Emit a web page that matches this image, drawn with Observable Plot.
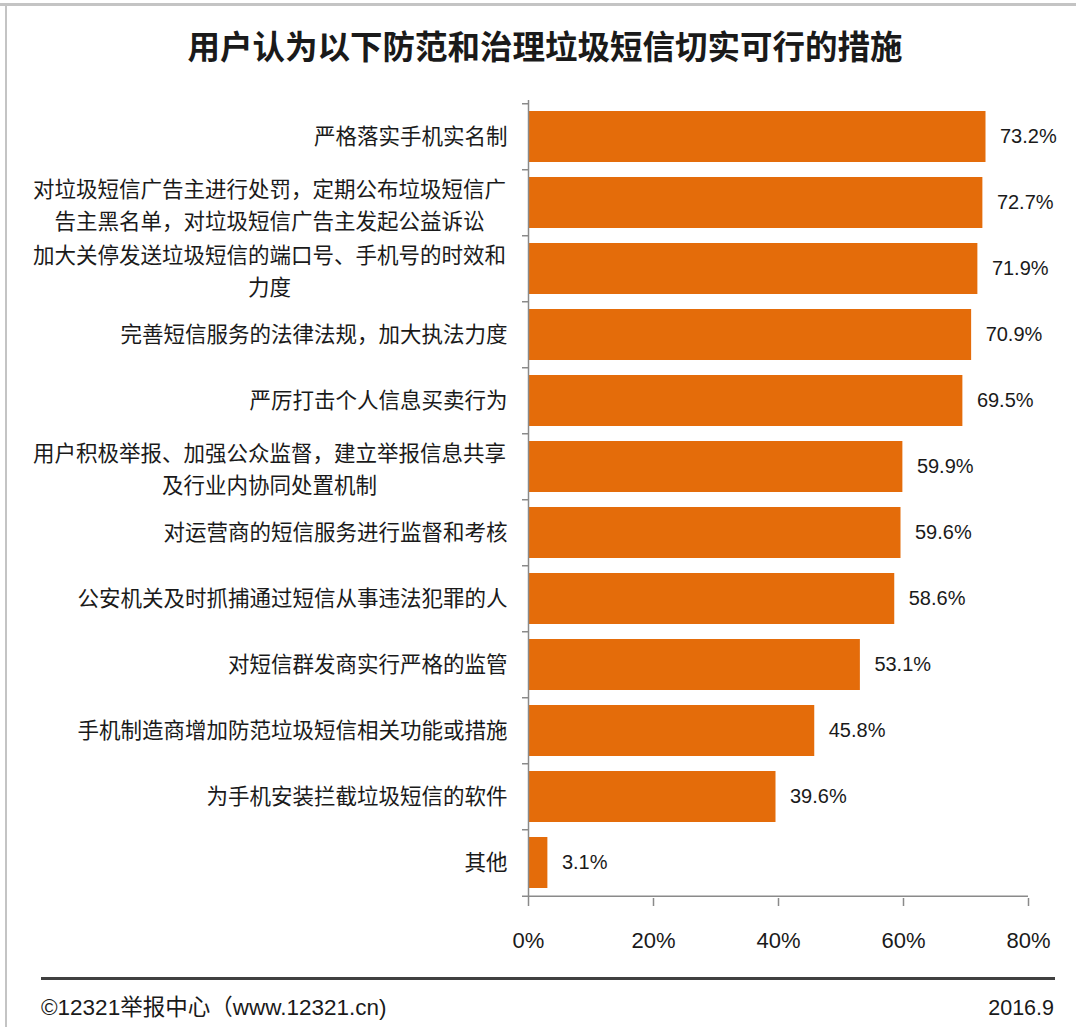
<!DOCTYPE html>
<html><head><meta charset="utf-8">
<script src="https://cdn.jsdelivr.net/npm/d3@7"></script>
<script src="https://cdn.jsdelivr.net/npm/@observablehq/plot@0.6"></script>
<style>
body{margin:0;background:#fff}
#wrap{position:relative;width:1076px;height:1027px;overflow:hidden;background:#fff}
#frameTop{position:absolute;left:0;top:3px;width:1076px;height:3px;background:#c4c4c4}
#frameLeft{position:absolute;left:5px;top:3px;width:2px;height:1024px;background:#c4c4c4}
#title{position:absolute;left:14px;top:28px;width:1062px;text-align:center;font:700 32.5px/34px 'Noto Sans CJK SC',sans-serif;color:#1a1a1a}
#chart{position:absolute;left:0;top:0}
#rule{position:absolute;left:41px;top:977px;width:1014px;height:2.5px;background:#404040}
#src{position:absolute;left:41px;top:995px;font:22.5px/26px 'Liberation Sans','Noto Sans CJK SC',sans-serif;color:#1a1a1a}
#date{position:absolute;right:22px;top:995px;font:21.5px/26px 'Liberation Sans',sans-serif;color:#1a1a1a}
</style></head><body>
<div id="wrap">
<div id="frameTop"></div><div id="frameLeft"></div>
<div id="title"></div>
<div id="chart"></div>
<div id="rule"></div>
<div id="src"></div>
<div id="date"></div>
</div>
<script>
const titleText = "用户认为以下防范和治理垃圾短信切实可行的措施";
const sourceText = "©12321举报中心（www.12321.cn)";
const dateText = "2016.9";
const categories = [
  "严格落实手机实名制",
  "对垃圾短信广告主进行处罚，定期公布垃圾短信广\n告主黑名单，对垃圾短信广告主发起公益诉讼",
  "加大关停发送垃圾短信的端口号、手机号的时效和\n力度",
  "完善短信服务的法律法规，加大执法力度",
  "严厉打击个人信息买卖行为",
  "用户积极举报、加强公众监督，建立举报信息共享\n及行业内协同处置机制",
  "对运营商的短信服务进行监督和考核",
  "公安机关及时抓捕通过短信从事违法犯罪的人",
  "对短信群发商实行严格的监管",
  "手机制造商增加防范垃圾短信相关功能或措施",
  "为手机安装拦截垃圾短信的软件",
  "其他"
];
const values = [73.2, 72.7, 71.9, 70.9, 69.5, 59.9, 59.6, 58.6, 53.1, 45.8, 39.6, 3.1];
const xTicks = [0, 20, 40, 60, 80];

document.getElementById("title").textContent = titleText;
document.getElementById("src").textContent = sourceText;
document.getElementById("date").textContent = dateText;

const data = categories.map((c, i) => ({cat: c, value: values[i]}));
const W = 1076, H = 960, mt = 100, mb = 62, ml = 528, mr = 48;
const step = (H - mt - mb) / categories.length;
const axisGray = "#8a8a8a", ink = "#1a1a1a", orange = "#E46C0A";
const cjk = "'Noto Sans CJK SC', sans-serif";
const latin = "'Liberation Sans', 'Noto Sans CJK SC', sans-serif";
const last = categories[categories.length - 1];

const chart = Plot.plot({
  width: W, height: H,
  marginTop: mt, marginBottom: mb, marginLeft: ml, marginRight: mr,
  style: {background: "transparent", overflow: "visible"},
  x: {domain: [xTicks[0], xTicks[xTicks.length - 1]], axis: null, label: null},
  y: {domain: categories, paddingInner: 0.23, paddingOuter: 0.115, axis: null, label: null},
  marks: [
    Plot.barX(data, {x: "value", y: "cat", fill: orange}),
    Plot.ruleX([xTicks[0]], {stroke: axisGray, strokeWidth: 1.5}),
    Plot.ruleY([last], {x1: xTicks[0], x2: xTicks[xTicks.length - 1], dy: step / 2, stroke: axisGray, strokeWidth: 1.5}),
    Plot.ruleY(categories, {x1: xTicks[0], x2: xTicks[0], insetLeft: -6, dy: -step / 2, stroke: axisGray, strokeWidth: 1.5}),
    Plot.ruleY([last], {x1: xTicks[0], x2: xTicks[0], insetLeft: -6, dy: step / 2, stroke: axisGray, strokeWidth: 1.5}),
    Plot.axisX(xTicks, {tickSize: 8, tickPadding: 26, tickFormat: d => d + "%", fontSize: 22, fontFamily: latin, stroke: axisGray, fill: ink, strokeWidth: 1.5, label: null}),
    Plot.text(data.filter(d => !d.cat.includes("\n")), {y: "cat", text: "cat", frameAnchor: "left", textAnchor: "end", dx: -21, fontSize: 21.5, fontFamily: cjk, fill: ink}),
    Plot.text(data.filter(d => d.cat.includes("\n")), {y: "cat", text: "cat", frameAnchor: "left", textAnchor: "middle", dx: -259, lineHeight: 1.5, fontSize: 21.5, fontFamily: cjk, fill: ink}),
    Plot.text(data, {x: "value", y: "cat", text: d => d.value.toFixed(1) + "%", dx: 14, textAnchor: "start", fontSize: 20, fontFamily: latin, fill: ink})
  ]
});
document.getElementById("chart").appendChild(chart);
</script>
</body></html>
